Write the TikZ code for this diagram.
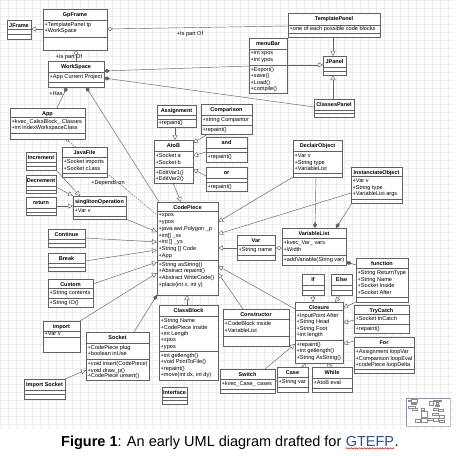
\documentclass[tikz,border=0pt]{standalone}
\usepackage{fontspec}
\setmainfont{Liberation Sans}
\usetikzlibrary{arrows.meta,shadows,decorations.pathmorphing}
\pgfdeclarelayer{gridlayer}
\pgfdeclarelayer{connlayer}
\pgfsetlayers{gridlayer,connlayer,main}
\definecolor{gtblue}{RGB}{40,78,150}
\tikzset{
  clsbox/.style={draw=black!62, line width=0.55pt, fill=white, inner sep=0pt, outer sep=0pt,
    drop shadow={shadow xshift=0.8pt, shadow yshift=-0.8pt, fill=black!30, opacity=0.6}},
  ttl/.style={font=\fontsize{5.5}{6}\selectfont\bfseries, inner sep=0pt, text height=4pt, text depth=0pt},
  attr/.style={font=\fontsize{5.6}{6.5}\selectfont, anchor=west, inner sep=0pt, text height=4.1pt, text depth=1.2pt},
  lbl/.style={font=\fontsize{5.6}{6.5}\selectfont, inner sep=0pt},
  sepl/.style={draw=black!62, line width=0.45pt},
  conn/.style={draw=black!62, line width=0.45pt},
  gridline/.style={draw=black!7, line width=0.3pt},
  gen/.style={-{Triangle[open,length=5pt,width=5pt,fill=white]}},
  agg/.style={{Diamond[open,length=6pt,width=4pt,fill=white]}-},
  aggsm/.style={{Diamond[open,length=4pt,width=3pt,fill=white]}-},
  aggE/.style={-{Diamond[open,length=6pt,width=4pt,fill=white]}},
  comp/.style={{Diamond[length=6pt,width=4pt]}-},
  compE/.style={-{Diamond[length=6pt,width=4pt]}},
  capf/.style={font=\fontsize{14.5}{17}\selectfont, inner sep=0pt},
}
\newcommand\umlc[6]{\def\cx{#2}\def\cw{#4}%
  \node[clsbox,minimum width=#4pt,minimum height=#5pt,anchor=north west] (#1) at (#2,#3) {};%
  \node[ttl] at ({#2+#4/2},{#3+5.5}) {#6};}
\newcommand\csep[1]{\draw[sepl] (\cx,#1) -- ({\cx+\cw},#1);}
\newcommand\cl[2]{\node[attr] at ({\cx+1.5},#1) {#2};}
\begin{document}
\begin{tikzpicture}[x=1pt,y=-1pt]
\useasboundingbox (0,0) rectangle (460,455);
\begin{pgfonlayer}{gridlayer}
  \fill[white] (0,0) rectangle (460,455);
  \foreach \gx in {0,8,...,452} \draw[gridline] (\gx,0) -- (\gx,430);
  \foreach \gy in {0,8,...,428} \draw[gridline] (0,\gy) -- (453,\gy);
\end{pgfonlayer}

% ---------- classes ----------
\umlc{jframe}{7}{20}{24}{19}{JFrame}\csep{29.5}\csep{34.5}
\umlc{gpframe}{43}{9}{64}{41}{GpFrame}\csep{20}\csep{37}\cl{25}{+TemplatePanel tp}\cl{31.5}{+WorkSpace}
\umlc{tpanel}{288}{13}{92}{24}{TemplatePanel}\csep{25}\csep{33}\cl{29}{+one of each possible code blocks}
\umlc{menubar}{249}{38}{38}{55}{menuBar}\csep{49}\csep{65}\cl{53.5}{+int xpos}\cl{60}{+int ypos}\cl{70}{+Export()}\cl{76.3}{+save()}\cl{82.6}{+Load()}\cl{89}{+compile()}
\umlc{jpanel}{323}{56}{23}{19}{JPanel}\csep{67.5}\csep{71}
\umlc{cpanel}{314}{99}{40}{18}{ClassesPanel}\csep{110}\csep{113.5}
\umlc{workspace}{48}{61}{56}{26}{WorkSpace}\csep{72.5}\csep{82}\cl{77.3}{+App Current Project}
\umlc{app}{10}{108}{75}{31}{App}\csep{117.5}\csep{133}\cl{121.8}{+kvec\_CalssBlock\_ Classes}\cl{128.2}{+int indexWorkspaceClass}
\umlc{javafile}{62}{147}{45}{30}{JavaFile}\csep{157.5}\csep{173}\cl{162.5}{+Socket imports}\cl{169}{+Socket c1ass}
\umlc{incr}{26}{152}{30}{18}{Increment}\csep{162}\csep{166}
\umlc{decr}{26}{175}{30}{18}{Decrement}\csep{186}\csep{190}
\umlc{ret}{26}{197}{30}{18}{return}\csep{208}\csep{212}
\umlc{singl}{73}{196}{53}{23}{singlitonOperation}\csep{206.5}\csep{216}\cl{211.3}{+Var v}
\umlc{cont}{48}{229}{37}{18}{Continue}\csep{239}\csep{243}
\umlc{brk}{48}{253}{37}{18}{Break}\csep{263}\csep{267}
\umlc{custom}{48}{279}{45}{28}{Custom}\csep{288.5}\csep{298.5}\cl{293.5}{+String contents}\cl{303.3}{+String IO()}
\umlc{import}{43}{321}{37}{31}{import}\csep{331.5}\csep{337.5}\cl{334.5}{+Var v}
\umlc{socket}{86}{332}{63}{48}{Socket}\csep{343}\csep{359}\cl{348}{+CodePiece plug}\cl{354}{+boolean inUse}\cl{364.5}{+void insert(CodePiece)}\cl{370.7}{+void draw\_p()}\cl{376.5}{+CodePiece unsert()}
\umlc{isocket}{24}{379}{41}{20}{Import Socket}\csep{390.5}\csep{394.5}
\umlc{assign}{157}{105}{39}{22}{Assignment}\csep{115.5}\csep{119.5}\cl{123.5}{+repaint()}
\umlc{compar}{201}{104}{51}{30}{Comparison}\csep{115}\csep{125.5}\cl{120.2}{+string Comparitor}\cl{130}{+repaint()}
\umlc{atob}{154}{140}{39}{43}{AtoB}\csep{151}\csep{167.5}\cl{156.3}{+Socket a}\cl{162.6}{+Socket b}\cl{172.8}{+EditVar1()}\cl{179}{+EditVar2()}
\umlc{cand}{206}{137}{41}{25}{and}\csep{148.5}\csep{152.5}\cl{157.3}{+repaint()}
\umlc{cor}{206}{167}{41}{24}{or}\csep{178}\csep{182}\cl{187}{+repaint()}
\umlc{codepiece}{157}{202}{61}{93}{CodePiece}\csep{211}\cl{215.5}{+xpos}\cl{222.2}{+ypos}\cl{228.9}{+java.awt.Polygon \_p}\cl{235.6}{+int[] \_xs}\cl{242.3}{+int [] \_ys}\cl{249}{+String [] Code}\cl{255.7}{+App}\csep{260.3}\cl{264.8}{+String asString()}\cl{271.5}{+Abstract repaint()}\cl{278.2}{+Abstract WriteCode()}\cl{284.9}{+place(int x, int y)}
\umlc{declair}{293}{140}{49}{37}{DeclairObject}\csep{151}\csep{173.5}\cl{156.3}{+Var v}\cl{162.6}{+String type}\cl{168.9}{+VariableList}
\umlc{inst}{351}{167}{51}{36}{InstanciateObject}\csep{176.5}\csep{199.5}\cl{181.5}{+Var v}\cl{188}{+String type}\cl{194.5}{+VariableList args}
\umlc{var}{237}{235}{38}{25}{Var}\csep{245.5}\csep{255.5}\cl{250.5}{+String name}
\umlc{varlist}{282}{228}{64}{37}{VariableList}\csep{238.5}\csep{255.5}\cl{243.5}{+kvec\_Var\_ vars}\cl{249.8}{+Width}\cl{260.3}{+addVariable(String var)}
\umlc{func}{356}{258}{52}{44}{function}\csep{268.5}\csep{297.5}\cl{273.2}{+String ReturnType}\cl{279.7}{+String Name}\cl{286.2}{+Socket Inside}\cl{292.7}{+Socket After}
\umlc{cif}{302}{274}{22}{21}{If}\csep{285.5}\csep{290}
\umlc{celse}{331}{274}{21}{21}{Else}\csep{285.5}\csep{290}
\umlc{closure}{295}{302}{48}{61}{Closure}\csep{310.5}\cl{315.8}{+InputPoint After}\cl{322.3}{+String Head}\cl{328.8}{+String Foot}\cl{335.3}{+int length}\csep{340}\cl{344.8}{+repaint()}\cl{351.3}{+int getlength()}\cl{357.8}{+String AsString()}
\umlc{trycatch}{354}{305}{55}{28}{TryCatch}\csep{314.5}\csep{324.5}\cl{319.5}{+Socket InCatch}\cl{329.5}{+repaint()}
\umlc{cfor}{354}{337}{60}{36}{For}\csep{347.5}\csep{369.5}\cl{352.5}{+Assignment loopVar}\cl{359}{+Comparison loopEval}\cl{365.5}{+codePiece loopDelta}
\umlc{constr}{223}{309}{66}{37}{Constructor}\csep{319.5}\csep{336.5}\cl{324.5}{+CodeBlock inside}\cl{331.3}{+VariableList}
\umlc{classblock}{159}{305}{59}{75}{ClassBlock}\csep{316.5}\cl{321.5}{+String Name}\cl{327.8}{+CodePiece inside}\cl{334.1}{+int Length}\cl{340.4}{+xpos}\cl{346.7}{+ypos}\csep{351}\cl{356}{+int getlength()}\cl{362.3}{+void PrintToFile()}\cl{368.6}{+repaint()}\cl{374.9}{+move(int dx, int dy)}
\umlc{iface}{162}{387}{25}{17}{Interface}\csep{397}\csep{400.5}
\umlc{cswitch}{220}{369}{55}{24}{Switch}\csep{379.5}\csep{389.5}\cl{384.5}{+kvec\_Case\_ cases}
\umlc{ccase}{277}{367}{31}{25}{Case}\csep{377}\csep{387}\cl{382}{+String var}
\umlc{cwhile}{312}{367}{40}{25}{While}\csep{378}\csep{388}\cl{383}{+AtoB eval}

% ---------- labels ----------
\node[lbl] at (190,34) {+Is part Of};
\node[lbl] at (69,57) {+Is part Of};
\node[lbl] at (56,94) {+Has};
\node[lbl] at (108,183) {+Depends on};

% ---------- connectors ----------
\begin{pgfonlayer}{connlayer}
\draw[conn,gen] (gpframe.west |- 0,29) -- (jframe.east |- 0,29);
\draw[conn,agg] (gpframe.east |- 0,29) -- (tpanel.west |- 0,26);
\draw[conn,agg] (gpframe.south -| 76,0) -- (workspace.north -| 76,0);
\draw[conn,comp] (workspace.east |- 0,71) -- (menubar.west |- 0,66);
\draw[conn,comp] (workspace.east |- 0,78) -- (cpanel.west |- 0,107);
\draw[conn,gen] (menubar.east |- 0,65) -- (jpanel.west |- 0,65);
\draw[conn,gen] (tpanel.south -| 333,0) -- (jpanel.north -| 333,0);
\draw[conn,gen] (cpanel.north -| 333,0) -- (jpanel.south -| 333,0);
\draw[conn,comp] (workspace.south -| 67,0) -- (app.north -| 57,0);
\draw[conn,comp] (workspace.south -| 86,0) -- (codepiece.north -| 159,0);
\draw[conn,aggsm,dash pattern=on 1.5pt off 1pt] (app.south -| 66,0) -- (codepiece.west |- 0,215);
\draw[conn,gen] (incr.south east) -- (singl.north -| 80,0);
\draw[conn,gen] (decr.east |- 0,187) -- (singl.north west);
\draw[conn,gen] (ret.east |- 0,206) -- (singl.west |- 0,206);
\draw[conn,gen] (singl.south east) -- (codepiece.west |- 0,232);
\draw[conn,gen] (cont.east |- 0,238) -- (codepiece.west |- 0,242);
\draw[conn,gen] (brk.east |- 0,261) -- (codepiece.west |- 0,250);
\draw[conn,gen] (custom.east |- 0,284) -- (codepiece.west |- 0,262);
\draw[conn,gen] (import.north east) -- (codepiece.west |- 0,273);
\draw[conn,compE] (socket.north -| 134,0) -- (codepiece.south west);
\draw[conn,gen] (isocket.north east) -- (socket.west |- 0,370);
\draw[conn,gen] (assign.south -| 175,0) -- (atob.north -| 175,0);
\draw[conn,gen] (compar.south -| 208,0) -- (atob.east |- 0,143);
\draw[conn,gen] (cand.west |- 0,152) -- (atob.east |- 0,156);
\draw[conn,gen] (cor.west |- 0,176) -- (atob.east |- 0,169);
\draw[conn,gen] (atob.south -| 173,0) -- (codepiece.north -| 181,0);
\draw[conn,gen] (declair.south west) -- (codepiece.east |- 0,222);
\draw[conn,gen] (inst.west |- 0,193) -- (codepiece.east |- 0,234);
\draw[conn,compE] (declair.south -| 316,0) -- (varlist.north -| 315,0);
\draw[conn,compE] (inst.south -| 352,0) -- (varlist.north -| 336,0);
\draw[conn,gen] (var.west |- 0,248) -- (codepiece.east |- 0,248);
\draw[conn,aggE] (var.east |- 0,248) -- (varlist.west |- 0,248);
\draw[conn,comp] (varlist.east |- 0,262) -- (func.west |- 0,265);
\draw[conn,gen] (func.south west) -- (closure.east |- 0,308);
\draw[conn,gen] (cif.south -| 313,0) -- (closure.north -| 313,0);
\draw[conn,gen] (celse.south -| 341,0) -- (closure.north -| 335,0);
\draw[conn,gen] (trycatch.west |- 0,320) -- (closure.east |- 0,323);
\draw[conn,gen] (cfor.west |- 0,341) -- (closure.east |- 0,344);
\draw[conn,gen] (closure.west |- 0,309) -- (codepiece.east |- 0,266);
\draw[conn,gen] (constr.north -| 243,0) -- (codepiece.east |- 0,273);
\draw[conn,gen] (classblock.north -| 187,0) -- (codepiece.south -| 187,0);
\draw[conn,gen] (cswitch.north -| 265,0) -- (closure.west |- 0,344);
\draw[conn,-{Straight Barb[length=2pt,width=3pt]}] (cswitch.east |- 0,381) -- (ccase.west |- 0,381);
\draw[conn,gen] (ccase.north -| 304,0) -- (closure.south -| 306,0);
\draw[conn,gen] (cwhile.north -| 330,0) -- (closure.south -| 327,0);
\end{pgfonlayer}

% ---------- minimap ----------
\draw[black!25, fill=white] (406,398) rectangle (450,426);
\begin{scope}[shift={(407,399)}, xscale=0.09, yscale=0.062]
  \foreach \a/\b/\c/\d in {7/20/31/39, 43/9/107/50, 288/13/380/37, 249/38/287/93, 323/56/346/75, 314/99/354/117, 48/61/104/87, 10/108/85/139, 62/147/107/177, 154/140/193/183, 157/202/218/295, 293/140/342/177, 351/167/402/203, 282/228/346/265, 356/258/408/302, 295/302/343/363, 159/305/218/380, 86/332/149/380, 223/309/289/346, 354/337/414/373}
    \draw[black!45, line width=0.2pt] (\a,\b) rectangle (\c,\d);
\end{scope}
\draw[blue!45!black!45, line width=0.4pt] (406,426) -- (406,398) -- (450,398);

% ---------- caption ----------
\node[capf, anchor=base west] (cap1) at (61,446) {\textbf{Figure 1}: An early UML diagram drafted for};
\node[capf, anchor=base west, text=gtblue] (cap2) at ([xshift=4pt]cap1.base east) {GTEFP};
\node[capf, anchor=base west] (cap3) at (cap2.base east) {.};
\draw[red, line width=0.5pt, decorate, decoration={snake,amplitude=0.7pt,segment length=2.6pt}] ([yshift=-2.4pt]cap2.base west) -- ([yshift=-2.4pt]cap2.base east);
\end{tikzpicture}
\end{document}
